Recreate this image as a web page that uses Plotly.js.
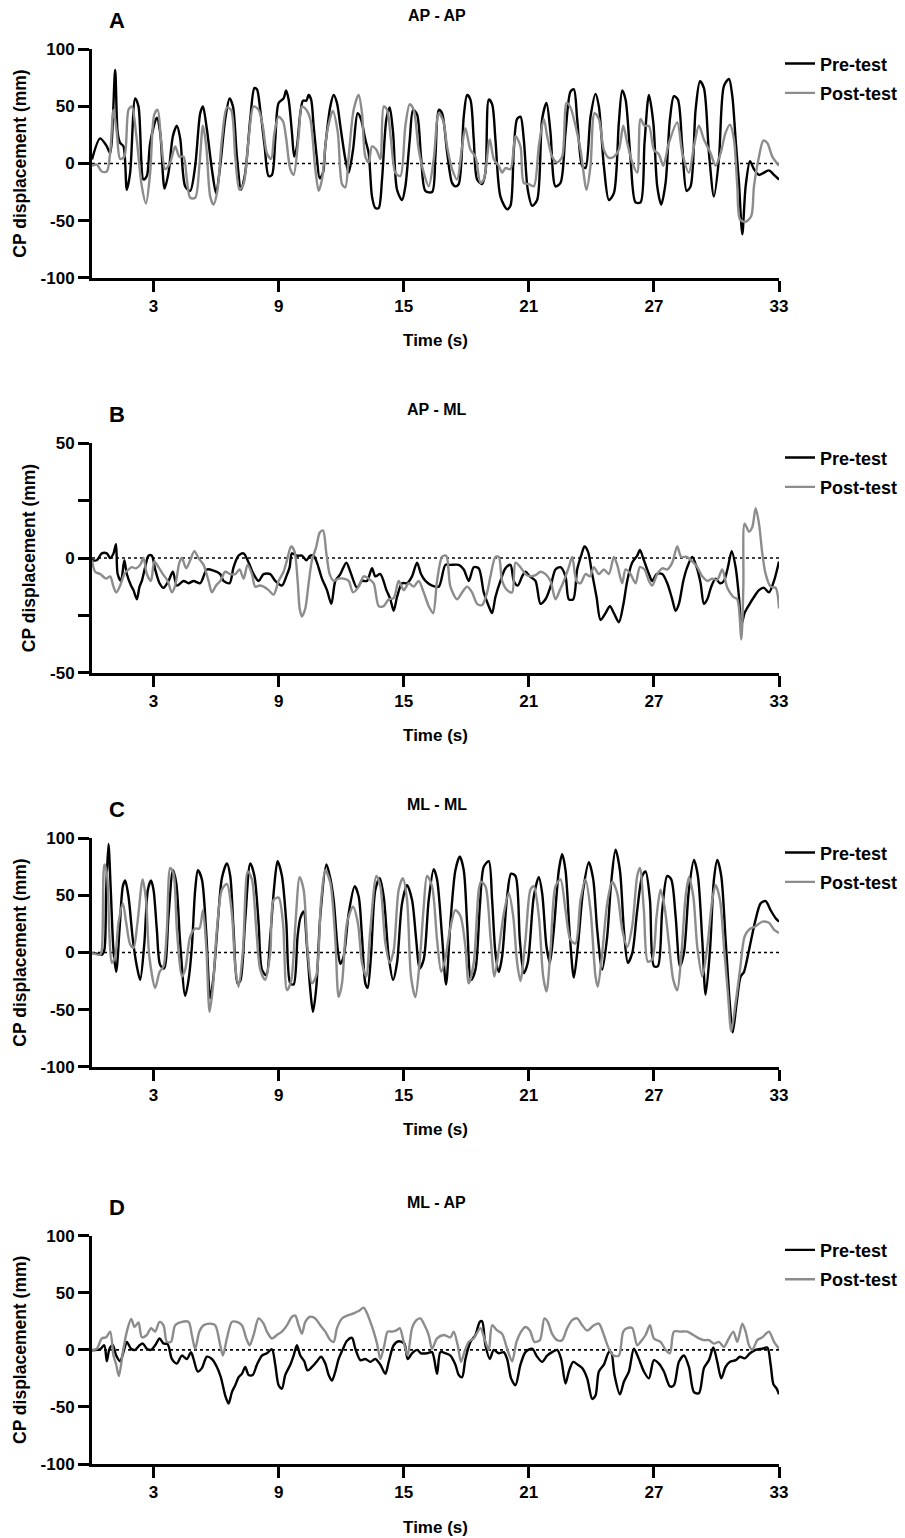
<!DOCTYPE html>
<html>
<head>
<meta charset="utf-8">
<script src="https://cdn.plot.ly/plotly-3.0.1.min.js"></script>
<style>html,body{margin:0;padding:0;background:#fff;}#chart{width:905px;height:1538px;}</style>
</head>
<body>
<div id="chart"></div>
<script>
// ---------------- DATA (time s, CP displacement mm) ----------------
const panelLetters = ["A", "B", "C", "D"];
const panelTitles = ["AP - AP", "AP - ML", "ML - ML", "ML - AP"];
const seriesNames = ["Pre-test", "Post-test"];
const xTickVals = [3, 9, 15, 21, 27, 33];
const xTickText = ["3", "9", "15", "21", "27", "33"];
const yTickValsWide = [-100, -50, 0, 50, 100];
const yTickTextWide = ["-100", "-50", "0", "50", "100"];
const yTickValsNarrow = [-50, -25, 0, 25, 50];
const yTickTextNarrow = ["-50", "", "0", "", "50"];

const A_pre = [[0.05,3.5],[0.44,22],[0.76,15],[0.92,9],[1.16,82],[1.28,27],[1.4,18],[1.56,15],[1.72,-23],[1.88,-8],[2.12,57],[2.28,50],[2.52,-14],[2.68,-11],[2.84,18],[3.16,40],[3.32,27],[3.53,-22],[3.72,-8],[3.93,24],[4.12,33],[4.28,22],[4.52,-20],[4.76,-24],[5.0,-2],[5.24,44],[5.37,50],[5.56,30],[5.8,-5],[6.0,-26],[6.2,-2],[6.44,39],[6.65,57],[6.81,50],[7.0,6],[7.2,-23],[7.4,-8],[7.64,39],[7.84,66],[7.96,65],[8.12,47],[8.33,15],[8.52,-11],[8.68,-10],[8.84,21],[9.0,53],[9.24,57],[9.36,64],[9.48,56],[9.64,27],[9.75,6],[9.88,15],[10.04,44],[10.17,55],[10.33,55],[10.44,60],[10.56,56],[10.68,33],[10.84,4],[10.97,-13],[11.13,-8],[11.24,15],[11.48,50],[11.64,60],[11.8,53],[11.96,33],[12.2,4],[12.36,-8],[12.57,12],[12.79,44],[12.95,39],[13.16,21],[13.32,9],[13.48,-29],[13.64,-39],[13.8,-39],[13.96,-14],[14.17,39],[14.33,49],[14.49,27],[14.68,-23],[14.92,-32],[15.08,-20],[15.29,21],[15.45,47],[15.64,43],[15.83,6],[16.04,-24],[16.36,-25],[16.52,6],[16.68,47],[16.84,44],[17.08,10],[17.32,-17],[17.48,-20],[17.64,-18],[17.88,41],[18.04,60],[18.2,56],[18.36,21],[18.52,-14],[18.76,-18],[18.92,-8],[19.08,56],[19.24,52],[19.4,21],[19.64,-29],[19.96,-40],[20.12,-37],[20.28,12],[20.44,39],[20.6,41],[20.76,21],[20.95,-23],[21.16,-37],[21.4,-32],[21.64,39],[21.85,53],[22.04,27],[22.28,-20],[22.52,-17],[22.76,27],[23.0,63],[23.16,65],[23.32,39],[23.56,-2],[23.72,-4],[23.96,41],[24.2,61],[24.36,50],[24.6,-2],[24.84,-32],[25.08,-26],[25.32,36],[25.48,64],[25.64,56],[25.88,4],[26.12,-34],[26.36,-34],[26.55,18],[26.76,60],[26.97,36],[27.16,-20],[27.35,-36],[27.56,-17],[27.77,39],[27.96,59],[28.15,56],[28.36,15],[28.57,-24],[28.76,-20],[29.0,47],[29.21,72],[29.4,66],[29.64,9],[29.88,-29],[30.12,4],[30.36,68],[30.6,74],[30.76,59],[30.92,21],[31.08,-17],[31.24,-62],[31.4,-20],[31.61,2],[31.8,-5],[32.04,-10],[32.52,-6],[32.76,-10],[33.0,-14]];

const A_post = [[0.05,-2],[0.28,-1],[0.52,-7],[0.76,-7],[0.92,9],[1.08,47],[1.24,27],[1.4,4],[1.6,6],[1.8,47],[1.96,50],[2.16,27],[2.44,-20],[2.64,-35],[2.84,-8],[3.04,43],[3.2,47],[3.36,21],[3.56,-5],[3.8,1],[4.04,15],[4.24,6],[4.44,6],[4.6,-14],[4.76,-30],[5.0,-30],[5.2,-2],[5.37,33],[5.53,15],[5.72,-29],[5.88,-36],[6.07,-23],[6.28,21],[6.52,49],[6.72,47],[6.92,6],[7.12,-23],[7.32,-18],[7.56,21],[7.8,50],[8.04,47],[8.24,33],[8.44,9],[8.64,4],[8.8,27],[9.0,41],[9.21,37],[9.37,21],[9.56,-5],[9.72,-10],[9.96,24],[10.12,50],[10.33,47],[10.52,39],[10.76,-5],[10.92,-24],[11.08,-14],[11.32,27],[11.6,46],[11.84,27],[12.04,-18],[12.2,-21],[12.36,6],[12.6,47],[12.84,60],[13.0,44],[13.16,6],[13.32,1],[13.48,15],[13.69,12],[13.88,4],[14.04,50],[14.2,47],[14.39,21],[14.6,-8],[14.84,-11],[15.08,33],[15.29,52],[15.48,47],[15.72,12],[15.96,-8],[16.2,-20],[16.44,4],[16.68,44],[16.9,37],[17.08,15],[17.32,-5],[17.56,-14],[17.8,15],[17.96,31],[18.2,12],[18.44,6],[18.68,-17],[18.84,-14],[19.13,21],[19.32,4],[19.56,-2],[19.72,-8],[19.88,-4],[20.12,-5],[20.36,24],[20.6,15],[20.76,-17],[21.0,-18],[21.24,-20],[21.48,15],[21.72,39],[21.88,24],[22.12,6],[22.36,1],[22.6,6],[22.81,53],[23.0,49],[23.24,33],[23.48,12],[23.77,-23],[23.96,-2],[24.15,44],[24.36,39],[24.6,12],[24.84,5],[25.08,6],[25.32,12],[25.53,33],[25.72,18],[25.96,1],[26.2,-8],[26.36,39],[26.55,33],[26.76,33],[27.0,12],[27.24,8],[27.45,-2],[27.72,18],[28.12,36],[28.36,9],[28.68,-8],[28.92,15],[29.16,33],[29.4,21],[29.72,9],[29.96,-2],[30.2,9],[30.44,27],[30.65,34],[30.84,21],[31.0,-20],[31.13,-49],[31.4,-51],[31.67,-46],[31.8,-20],[32.04,6],[32.25,20],[32.44,18],[32.68,6],[33.0,-2]];

const B_pre = [[0.05,-1],[0.28,-1],[0.52,2],[0.76,2],[0.92,0],[1.08,2],[1.2,6],[1.28,-7],[1.44,-10],[1.6,-1],[1.72,-7],[1.92,-12],[2.04,-14],[2.2,-18],[2.33,-12.5],[2.44,-10],[2.6,-4],[2.76,1],[2.92,1],[3.08,-5],[3.29,-11],[3.48,-13],[3.72,-10],[3.93,-6],[4.12,-12],[4.44,-10],[4.68,-11],[4.92,-10],[5.24,-11],[5.56,-5],[5.88,-5.5],[6.2,-7],[6.36,-10],[6.65,-11],[6.84,-4],[7.08,1],[7.32,2],[7.56,-2],[7.8,-7],[8.04,-10],[8.28,-7],[8.6,-7],[8.84,-10],[9.16,-12],[9.37,-8],[9.53,-4],[9.64,2],[9.88,1],[10.12,1],[10.33,-1],[10.52,1],[10.68,1],[10.84,-2],[11.08,-9],[11.32,-14],[11.53,-20],[11.72,-10],[11.96,-7],[12.25,-2],[12.44,-6],[12.76,-13],[13.0,-10],[13.24,-10],[13.48,-4.5],[13.64,-8],[13.88,-7],[14.17,-14],[14.36,-18],[14.52,-23],[14.68,-17],[14.92,-11],[15.16,-11],[15.4,-8],[15.64,-2],[15.83,-7],[16.04,-10],[16.36,-12],[16.68,-12.5],[17.0,-3],[17.24,-3],[17.64,-3],[17.88,-5],[18.12,-10],[18.36,-4],[18.6,-4.5],[18.84,-15],[19.08,-21],[19.24,-24],[19.4,-17],[19.64,-10],[19.88,-4.5],[20.12,-3],[20.28,-10],[20.47,-12],[20.68,-8],[20.84,-6],[21.05,-8],[21.32,-10],[21.56,-20],[21.8,-18],[22.04,-12.5],[22.28,-5],[22.52,-4],[22.76,-8],[22.92,-18],[23.13,-18],[23.32,-5],[23.51,1],[23.67,5],[23.83,3],[24.04,-7],[24.25,-17],[24.44,-27],[24.68,-24],[24.89,-21],[25.08,-24],[25.32,-28],[25.53,-20.5],[25.72,-10],[25.96,-2],[26.2,1],[26.33,3.5],[26.52,-1],[26.76,-7],[26.92,-10],[27.13,-7],[27.4,-7],[27.64,-11],[27.88,-18],[28.04,-23],[28.2,-20],[28.41,-10],[28.6,-4],[28.84,0.5],[29.05,-4],[29.24,-11],[29.4,-20],[29.56,-18],[29.75,-12.5],[29.96,-9],[30.17,-11],[30.36,-10],[30.55,-4],[30.73,3],[30.92,-4],[31.08,-17],[31.2,-29],[31.35,-24],[31.56,-20.5],[31.8,-17],[32.04,-14],[32.28,-13],[32.52,-15],[32.76,-10],[33.0,-1.5]];

const B_post = [[0.05,-1],[0.2,-6],[0.44,-7],[0.73,-9],[0.92,-8],[1.08,-12.5],[1.21,-15],[1.4,-12],[1.6,-7],[1.8,-5],[1.96,-4],[2.16,-4.5],[2.36,-3],[2.52,0],[2.68,-7],[2.88,-10],[3.04,-1.5],[3.24,-4],[3.45,-7],[3.68,-10],[3.88,-15],[4.04,-12],[4.24,-2],[4.36,0],[4.57,-4.5],[4.76,-1],[4.96,3],[5.16,0],[5.4,-3],[5.64,-10],[5.8,-15],[6.0,-12],[6.2,-10],[6.44,-6],[6.68,-7],[6.92,-7],[7.13,-5],[7.32,-9],[7.51,-3],[7.72,-7],[7.88,-12.5],[8.09,-12],[8.28,-12.5],[8.52,-14],[8.76,-16],[9.0,-10],[9.24,-6],[9.4,-1],[9.6,5],[9.76,3],[9.92,-11],[10.01,-22],[10.12,-25.5],[10.28,-22],[10.44,-11],[10.6,-1],[10.81,5],[10.97,11],[11.13,12],[11.29,2],[11.45,-7],[11.64,-10],[11.88,-9],[12.12,-9],[12.36,-10],[12.57,-15],[12.84,-12.5],[13.08,-8],[13.32,-9],[13.56,-11],[13.8,-21],[14.04,-21],[14.28,-18],[14.52,-17.5],[14.76,-10],[15.0,-14],[15.24,-11],[15.48,-12.5],[15.72,-10],[15.96,-15],[16.2,-21],[16.41,-24],[16.6,-10],[16.84,0.5],[17.04,1],[17.24,-12.5],[17.56,-18],[17.8,-15],[18.04,-12.5],[18.28,-15],[18.52,-20],[18.76,-20.5],[19.0,-15],[19.16,-8],[19.4,0.5],[19.56,0.5],[19.72,-10],[19.96,-14],[20.2,-15],[20.36,-2],[20.6,-4],[20.84,-7],[21.08,-8],[21.32,-7.5],[21.56,-6],[21.8,-7],[22.04,-10],[22.28,-18],[22.49,-14],[22.68,-10],[22.92,-4],[23.08,0.5],[23.29,-10],[23.48,-11],[23.72,-7],[23.93,-8],[24.12,-4],[24.36,-7],[24.6,-5],[24.84,-7],[25.08,0.5],[25.24,-3],[25.48,-11],[25.64,-5],[25.88,-7],[26.12,-11],[26.33,-4],[26.55,-5],[26.76,-10],[26.92,-12],[27.16,-7],[27.4,-4.5],[27.64,-5],[27.88,-2],[28.12,5],[28.31,0.5],[28.57,0.5],[28.84,-1.5],[29.08,-4],[29.32,-8],[29.56,-10],[29.8,-9],[30.04,-9.5],[30.28,-5],[30.52,-13],[30.81,-17],[31.0,-18],[31.19,-35.5],[31.29,-12.5],[31.35,15],[31.56,11.5],[31.72,13.5],[31.88,21.7],[32.04,15],[32.2,2],[32.36,-7],[32.6,-12.5],[32.84,-13],[33.0,-22]];

const C_pre = [[0.05,-0.5],[0.28,-1],[0.52,-2],[0.64,2],[0.73,55],[0.84,95],[0.95,55],[1.08,2],[1.21,-17],[1.37,20],[1.53,58],[1.64,63],[1.8,49],[2.01,11],[2.2,-12],[2.36,-24],[2.56,8],[2.73,55],[2.88,63],[3.0,55],[3.16,20],[3.32,-11],[3.51,-14],[3.72,32],[3.93,72],[4.09,61],[4.28,8],[4.52,-38],[4.68,-24],[4.84,5],[5.0,55],[5.13,72],[5.32,64],[5.53,17],[5.72,-40],[5.88,-21],[6.07,23],[6.28,65],[6.52,78],[6.68,67],[6.84,20],[7.03,-27],[7.16,-25],[7.4,29],[7.64,78],[7.84,67],[8.04,26],[8.2,-15],[8.41,-20],[8.6,14],[8.79,58],[8.95,80],[9.16,67],[9.37,26],[9.56,-27],[9.72,-28],[9.91,14],[10.04,30],[10.2,36],[10.36,5],[10.52,-33],[10.65,-52],[10.81,-30],[11.0,32],[11.29,77],[11.48,65],[11.64,46],[11.84,2],[11.96,-10],[12.12,-3.5],[12.36,34],[12.65,58],[12.84,49],[13.0,14],[13.16,-27],[13.27,-31],[13.43,-3.5],[13.64,55],[13.85,65],[14.04,49],[14.28,-3.5],[14.49,-24],[14.68,-9],[14.92,43],[15.16,59],[15.4,46],[15.6,11],[15.76,-14],[15.96,-6],[16.2,46],[16.44,73],[16.6,64],[16.84,14],[17.03,-28],[17.24,26],[17.48,72],[17.69,84],[17.88,72],[18.04,26],[18.23,-24],[18.44,-15],[18.65,40],[18.84,75],[19.08,80],[19.24,46],[19.4,-0.5],[19.56,-17],[19.72,-3.5],[19.96,49],[20.15,69],[20.36,67],[20.57,11],[20.76,-18],[20.95,-9],[21.24,49],[21.48,66],[21.64,52],[21.85,5],[22.01,-9],[22.2,20],[22.44,72],[22.6,86],[22.76,72],[22.97,14],[23.16,-22],[23.35,5],[23.61,55],[23.88,79],[24.09,64],[24.28,20],[24.52,-15],[24.76,14],[24.95,61],[25.16,90],[25.37,72],[25.56,20],[25.75,-9],[25.96,-0.5],[26.2,37],[26.44,67],[26.6,71],[26.81,46],[27.0,-12],[27.19,-12],[27.4,37],[27.64,67],[27.83,64],[28.04,32],[28.25,-12],[28.44,-0.5],[28.68,55],[28.92,81],[29.11,67],[29.32,11],[29.48,-37],[29.69,2],[29.88,64],[30.04,81],[30.23,67],[30.44,11],[30.65,-47],[30.78,-70],[30.97,-44],[31.16,-21],[31.32,-17],[31.56,2],[31.88,29],[32.12,43],[32.36,45],[32.6,37],[32.84,30],[33.0,27]];

const C_post = [[0.05,-0.5],[0.44,-2],[0.52,2],[0.64,77],[0.76,70],[0.89,14],[1.0,-9],[1.16,-3.5],[1.32,26],[1.53,43],[1.69,26],[1.88,7],[2.04,4],[2.23,26],[2.48,64],[2.64,46],[2.8,-3.5],[3.08,-31],[3.29,-17],[3.48,-12],[3.64,20],[3.8,74],[3.96,69],[4.12,20],[4.36,-21],[4.52,-15],[4.76,14],[5.0,21],[5.2,21],[5.37,37],[5.53,5],[5.69,-52],[5.85,-30],[6.04,20],[6.28,55],[6.52,60],[6.76,34],[6.92,-12],[7.08,-30],[7.29,2],[7.52,71],[7.72,64],[7.93,20],[8.12,-15],[8.36,-24],[8.6,-0.5],[8.76,46],[9.0,48],[9.21,26],[9.4,-33],[9.6,-25],[9.81,26],[10.01,66],[10.2,55],[10.39,2],[10.6,-27],[10.81,-20],[11.04,46],[11.24,72],[11.48,61],[11.72,11],[11.88,-39],[12.04,-27],[12.28,26],[12.57,40],[12.8,26],[13.0,-9],[13.2,-21],[13.4,20],[13.69,67],[13.88,58],[14.12,8],[14.33,-9],[14.52,2],[14.76,55],[14.96,65],[15.16,46],[15.35,-21],[15.56,-39],[15.76,-9],[15.96,40],[16.12,67],[16.36,58],[16.6,11],[16.8,-17],[17.0,-5],[17.2,18],[17.48,37],[17.72,32],[17.96,5],[18.12,-27],[18.36,-9],[18.6,55],[18.71,62],[18.92,58],[19.16,14],[19.35,-21],[19.56,2],[19.8,34],[20.04,52],[20.25,32],[20.44,-9],[20.6,-25],[20.84,11],[21.08,55],[21.24,58],[21.48,32],[21.69,-21],[21.85,-34],[22.04,2],[22.28,58],[22.52,64],[22.76,37],[23.0,11],[23.24,8],[23.48,46],[23.72,64],[23.96,37],[24.2,-21],[24.31,-30],[24.52,-0.5],[24.76,43],[25.0,62],[25.24,52],[25.48,20],[25.72,5],[25.96,23],[26.2,67],[26.33,74],[26.52,37],[26.71,-8],[26.92,-6],[27.13,32],[27.32,55],[27.51,40],[27.72,8],[27.93,-24],[28.12,-33],[28.31,-3.5],[28.52,49],[28.68,66],[28.89,49],[29.08,5],[29.32,-21],[29.56,5],[29.8,46],[29.96,59],[30.17,46],[30.36,5],[30.55,-36],[30.71,-69],[30.92,-44],[31.13,-15],[31.35,14],[31.56,20],[31.88,23],[32.2,27],[32.52,26],[32.76,20],[33.0,17]];

const D_pre = [[0.05,-0.5],[0.44,0.5],[0.64,4],[0.76,-10],[0.89,1],[1.05,4],[1.21,-5],[1.4,-10],[1.56,-2],[1.72,7],[1.92,1],[2.12,0],[2.33,4],[2.49,5.5],[2.68,1],[2.88,0],[3.08,4],[3.29,10],[3.48,5.5],[3.68,5],[3.88,-8],[4.12,-12],[4.36,-5],[4.6,-8],[4.8,-2],[4.92,-8],[5.12,-19],[5.32,-16],[5.56,-6],[5.8,-8],[6.04,-15],[6.23,-24],[6.44,-40],[6.6,-47],[6.76,-37],[6.92,-31],[7.08,-24],[7.24,-21],[7.4,-15],[7.56,-22],[7.76,-22],[7.96,-13],[8.2,-5],[8.44,-3],[8.68,0.5],[8.84,-13],[9.0,-31],[9.16,-34],[9.32,-22],[9.56,-13],[9.72,-5],[9.88,4],[10.04,-5],[10.23,-10],[10.39,-18],[10.6,-15],[10.84,-10],[11.04,-6],[11.24,-12],[11.4,-22],[11.56,-27],[11.72,-19],[11.88,-8],[12.09,1],[12.28,8],[12.52,10.5],[12.68,1],[12.92,-9],[13.16,-8],[13.4,-10.5],[13.64,-8],[13.88,-13],[14.12,-21],[14.28,-10.5],[14.52,4],[14.76,7.5],[15.03,5.5],[15.19,-8],[15.4,-3],[15.64,0],[15.83,-3],[16.12,-3],[16.36,-2],[16.6,-21],[16.76,-2],[17.0,-3],[17.24,-5],[17.48,-13],[17.64,-22],[17.8,-24],[17.96,-8],[18.2,7],[18.44,13],[18.65,24.5],[18.76,25],[18.92,4],[19.13,-8],[19.32,0],[19.56,-3],[19.8,-2],[19.96,-8],[20.15,-25],[20.36,-31],[20.6,-13],[20.84,-2],[21.16,1],[21.4,-6],[21.64,-10.5],[21.88,-5],[22.12,-2],[22.36,0],[22.55,-8],[22.76,-29.5],[22.92,-19],[23.13,-10.5],[23.35,-13],[23.56,-16],[23.8,-25],[24.04,-43],[24.2,-40],[24.36,-19],[24.6,-13],[24.84,-2],[24.95,-2],[25.11,-22],[25.37,-39],[25.56,-28],[25.8,-19],[26.04,1],[26.28,-8],[26.52,-19],[26.76,-25],[27.0,-9],[27.24,-12],[27.48,-19],[27.77,-32],[27.96,-31],[28.2,-10.5],[28.44,-5],[28.68,-15],[28.92,-37],[29.16,-38],[29.4,-16],[29.64,-9],[29.85,2],[30.04,-10.5],[30.23,-25],[30.44,-15],[30.65,-10.5],[30.92,-9],[31.13,-6],[31.35,-7.5],[31.61,-3],[31.88,0],[32.2,1],[32.44,2],[32.6,-13],[32.73,-30],[32.89,-34],[33.0,-39]];

const D_post = [[0.05,0],[0.28,1],[0.52,10],[0.73,11],[0.92,16],[1.08,-5],[1.21,-13],[1.34,-23],[1.53,-2],[1.72,16],[1.93,27],[2.09,20],[2.28,24],[2.44,11],[2.68,13],[2.88,19],[3.08,16],[3.29,24.5],[3.48,21.5],[3.64,7],[3.84,7],[4.04,21.5],[4.36,24.5],[4.68,24.5],[4.84,13],[5.0,1],[5.2,16],[5.4,21.5],[5.72,23],[5.96,21.5],[6.2,4],[6.33,-5],[6.52,10],[6.76,24.5],[7.0,24.5],[7.24,21.5],[7.45,10],[7.61,4],[7.8,13],[8.04,27.5],[8.28,23],[8.44,16],[8.68,10],[8.92,13],[9.16,16],[9.4,21.5],[9.64,29],[9.8,30],[9.96,21.5],[10.12,14],[10.28,24.5],[10.52,29],[10.76,27.5],[11.0,21.5],[11.24,16],[11.48,8.5],[11.64,7],[11.8,19],[12.04,27.5],[12.28,30],[12.6,32],[12.84,34],[13.08,37],[13.24,32],[13.4,24.5],[13.56,16],[13.72,5.5],[13.88,-8],[14.07,4],[14.23,16],[14.44,16],[14.65,17],[14.81,19],[15.0,7],[15.19,-5],[15.4,19],[15.61,26],[15.8,27.5],[16.0,21.5],[16.2,13],[16.36,1],[16.6,10],[16.92,13],[17.24,11],[17.4,16],[17.59,4],[17.75,-10.5],[17.91,-2],[18.12,7],[18.36,10],[18.68,19],[18.87,10],[19.08,0],[19.24,21.5],[19.48,17],[19.72,14],[19.96,1],[20.2,-10],[20.41,7],[20.63,16],[20.84,20],[21.05,17],[21.27,7],[21.53,8.5],[21.75,27.5],[21.91,24.5],[22.12,14],[22.36,8.5],[22.6,8.5],[22.84,19],[23.08,26],[23.32,27.5],[23.56,21.5],[23.8,17],[24.12,21.5],[24.36,23],[24.6,13],[24.84,1],[25.08,-5],[25.32,-5],[25.53,16],[25.72,19],[25.96,19],[26.2,4],[26.36,7],[26.6,13],[26.81,21.5],[27.0,10],[27.32,7],[27.56,0],[27.77,-3],[27.96,16],[28.28,16],[28.6,16],[28.89,13],[29.16,10],[29.4,8.5],[29.64,8.5],[29.88,5.5],[30.12,7],[30.36,2.5],[30.55,8.5],[30.81,16],[31.0,7],[31.24,23],[31.4,16],[31.56,4],[31.72,0],[31.96,8.5],[32.2,11],[32.52,16],[32.76,7],[33.0,1]];

// ---------------- LAYOUT / STYLE ----------------
const W = 905, H = 1538;
const FONT = "Liberation Sans, Arial, Helvetica, sans-serif";
const PRE_COLOR = "#000000";
const POST_COLOR = "#8c8c8c";
const plotLeft = 92, plotRight = 779;
const plotTop = [49.3, 443.3, 838.3, 1235.7];
const plotBot = [277.7, 672.7, 1066.7, 1464];
const xDom = [plotLeft / W, plotRight / W];
const panelData = [[A_pre, A_post], [B_pre, B_post], [C_pre, C_post], [D_pre, D_post]];
const yRanges = [[-100, 100], [-50, 50], [-100, 100], [-100, 100]];
const yTicks = [
  [yTickValsWide, yTickTextWide], [yTickValsNarrow, yTickTextNarrow],
  [yTickValsWide, yTickTextWide], [yTickValsWide, yTickTextWide]
];

const py = p => 1 - p / H;           // pixel y -> paper
const px = p => p / W;               // pixel x -> paper

const traces = [];
const layout = {
  width: W, height: H,
  margin: {l: 0, r: 0, t: 0, b: 0, pad: 0},
  paper_bgcolor: "#ffffff", plot_bgcolor: "#ffffff",
  font: {family: FONT, color: "#000", size: 17, weight: "bold"},
  showlegend: true,
  shapes: [], annotations: []
};

for (let i = 0; i < 4; i++) {
  const n = i === 0 ? "" : String(i + 1);
  const xa = "x" + n, ya = "y" + n;
  const legName = "legend" + n;
  [0, 1].forEach(k => {
    const d = panelData[i][k];
    traces.push({
      type: "scatter", mode: "lines",
      x: d.map(p => p[0]), y: d.map(p => p[1]),
      name: seriesNames[k],
      xaxis: xa, yaxis: ya,
      legend: legName,
      legendgroup: "g" + i + k,
      line: {color: k === 0 ? PRE_COLOR : POST_COLOR, width: 2.4, shape: "spline", smoothing: 0.8},
      hoverinfo: "skip"
    });
  });
  const yDom = [1 - plotBot[i] / H, 1 - plotTop[i] / H];
  layout["xaxis" + n] = {
    domain: xDom, anchor: ya, range: [0.05, 33],
    tickmode: "array", tickvals: xTickVals, ticktext: xTickText,
    showline: true, linewidth: 3, linecolor: "#000",
    ticks: "outside", ticklen: 11, tickwidth: 3, tickcolor: "#000",
    showgrid: false, zeroline: false, automargin: false,
    tickfont: {family: FONT, size: 17, color: "#000", weight: "bold"},
    title: {text: "Time (s)", font: {family: FONT, size: 17, color: "#000", weight: "bold"}, standoff: 20},
    fixedrange: true
  };
  layout["yaxis" + n] = {
    domain: yDom, anchor: xa, range: yRanges[i],
    tickmode: "array", tickvals: yTicks[i][0], ticktext: yTicks[i][1],
    showline: true, linewidth: 3, linecolor: "#000",
    ticks: "outside", ticklen: 11, tickwidth: 3, tickcolor: "#000",
    showgrid: false, zeroline: false, automargin: false,
    tickfont: {family: FONT, size: 17, color: "#000", weight: "bold"},
    title: {text: "CP displacement (mm)", font: {family: FONT, size: 17.5, color: "#000", weight: "bold"}, standoff: 10},
    fixedrange: true
  };
  layout[legName] = {
    x: px(780), xanchor: "left",
    y: py(plotTop[i] - 4), yanchor: "top",
    bgcolor: "rgba(0,0,0,0)", borderwidth: 0,
    font: {family: FONT, size: 18, color: "#000", weight: "bold"},
    tracegroupgap: 3, itemwidth: 30,
    traceorder: "grouped"
  };
  layout.shapes.push({
    type: "line", xref: xa + " domain", yref: ya,
    x0: 0, x1: 1, y0: 0, y1: 0,
    line: {color: "#000", width: 1.6, dash: "dot"}, layer: "below"
  });
  layout.annotations.push({
    text: panelLetters[i], xref: "paper", yref: "paper",
    x: px(117), y: py(plotTop[i] - 28.5), xanchor: "center", yanchor: "middle",
    showarrow: false, font: {family: FONT, size: 22, color: "#000", weight: "bold"}
  });
  layout.annotations.push({
    text: panelTitles[i], xref: "paper", yref: "paper",
    x: px((plotLeft + plotRight) / 2 + 1), y: py(plotTop[i] - 33.5), xanchor: "center", yanchor: "middle",
    showarrow: false, font: {family: FONT, size: 16, color: "#000", weight: "bold"}
  });
}

Plotly.newPlot("chart", traces, layout, {displayModeBar: false, staticPlot: true});
</script>
</body>
</html>
